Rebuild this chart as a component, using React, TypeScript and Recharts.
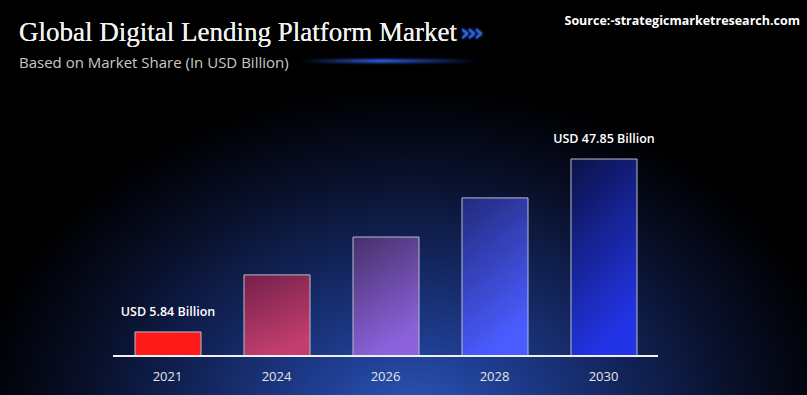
import { BarChart, Bar, XAxis, YAxis, Cell, LabelList } from "recharts";

const years = ["2021", "2024", "2026", "2028", "2030"];
const marketSize = [5.84, 19.7, 28.9, 38.4, 47.85];
const shownLabels = ["USD 5.84 Billion", "", "", "", "USD 47.85 Billion"];

const barGradients = [
  ["#ff1a1a", "#ff1a1a"],
  ["#74204a", "#c23e6e"],
  ["#46306a", "#8c62dc"],
  ["#222a7c", "#4a5cff"],
  ["#0b1246", "#2234e6"],
];

const data = years.map((year, i) => ({
  year,
  value: marketSize[i],
  label: shownLabels[i],
}));

function ValueLabel(props: any) {
  const { x, y, width, value } = props;
  if (!value) return null;
  return (
    <text
      x={x + width / 2}
      y={y - 16}
      textAnchor="middle"
      fill="#ffffff"
      fontFamily="'Open Sans', sans-serif"
      fontWeight={600}
      fontSize={12.5}
    >
      {value}
    </text>
  );
}

export default function App() {
  return (
    <div
      style={{
        position: "absolute",
        left: 0,
        top: 0,
        width: 807,
        height: 395,
        overflow: "hidden",
        background:
          "radial-gradient(ellipse 440px 340px at 410px 425px, #2e58bc 0%, #1e3c8e 25%, #12245a 50%, #080f28 75%, #000 100%)",
      }}
    >
      <div
        style={{
          position: "absolute",
          left: 19,
          top: 17,
          fontFamily: "'Liberation Serif', serif",
          fontSize: 27,
          color: "#f2f2f2",
          whiteSpace: "nowrap",
          textShadow: "0 0 0.6px #fff",
        }}
      >
        Global Digital Lending Platform Market
        <span
          style={{
            color: "#2f5fd8",
            fontFamily: "'DejaVu Sans', sans-serif",
            fontWeight: 700,
            fontSize: 24,
            marginLeft: 3,
            letterSpacing: -3,
            textShadow: "0 0 3px #2f5fd8",
          }}
        >
          ›››
        </span>
      </div>
      <div
        style={{
          position: "absolute",
          left: 19,
          top: 52,
          fontFamily: "'Open Sans', sans-serif",
          fontSize: 15,
          color: "#c8c8c8",
          whiteSpace: "nowrap",
        }}
      >
        Based on Market Share (In USD Billion)
      </div>
      <div
        style={{
          position: "absolute",
          left: 300,
          top: 59,
          width: 178,
          height: 4,
          borderRadius: 2,
          background: "linear-gradient(90deg, rgba(40,80,220,0) 0%, #2c5ce0 45%, rgba(40,80,220,0) 100%)",
          filter: "blur(1px)",
        }}
      />
      <div
        style={{
          position: "absolute",
          right: 7,
          top: 12,
          fontFamily: "'Open Sans', sans-serif",
          fontWeight: 700,
          fontSize: 12.5,
          color: "#ffffff",
          whiteSpace: "nowrap",
        }}
      >
        Source:-strategicmarketresearch.com
      </div>
      <BarChart
        width={807}
        height={395}
        data={data}
        margin={{ top: 109, right: 149, bottom: 0, left: 113 }}
        barCategoryGap={43}
        style={{ position: "absolute", left: 0, top: 0 }}
      >
        <defs>
          {barGradients.map((g, i) => (
            <linearGradient key={i} id={`barGrad${i}`} x1="0" y1="0" x2="0.35" y2="1">
              <stop offset="0%" stopColor={g[0]} />
              <stop offset="100%" stopColor={g[1]} />
            </linearGradient>
          ))}
        </defs>
        <XAxis
          dataKey="year"
          height={39}
          axisLine={{ stroke: "#f0f0f0", strokeWidth: 2 }}
          tickLine={false}
          tick={{ fill: "#e4e4e4", fontSize: 13, fontFamily: "'Open Sans', sans-serif" }}
          tickMargin={10}
        />
        <YAxis hide domain={[0, 60]} />
        <Bar dataKey="value" barSize={66} isAnimationActive={false} stroke="#b9bccc" strokeWidth={1}>
          {data.map((d, i) => (
            <Cell key={d.year} fill={`url(#barGrad${i})`} />
          ))}
          <LabelList dataKey="label" content={<ValueLabel />} />
        </Bar>
      </BarChart>
    </div>
  );
}
